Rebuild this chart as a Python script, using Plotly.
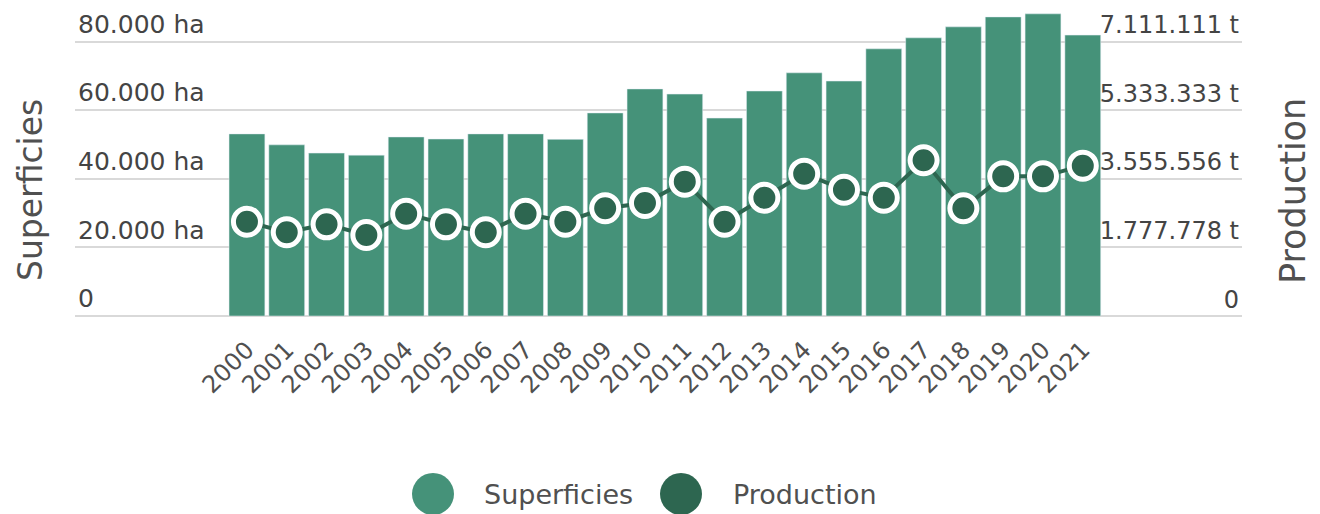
import plotly.graph_objects as go

years = [str(y) for y in range(2000, 2022)]
superficies_ha = [
    53100, 49900, 47500, 46900, 52200, 51600, 53100, 53100, 51500, 59200, 66200,
    64700, 57700, 65600, 70900, 68500, 77900, 81100, 84300, 87200, 88100, 81900,
]
production_t = [
    2444000, 2169000, 2376000, 2100000, 2652000, 2376000, 2169000, 2652000, 2444000,
    2791000, 2929000, 3482000, 2444000, 3067000, 3689000, 3274000, 3067000, 4035000,
    2791000, 3620000, 3620000, 3896000,
]

left_ticks = [0, 20000, 40000, 60000, 80000]
left_labels = ["0", "20.000 ha", "40.000 ha", "60.000 ha", "80.000 ha"]
right_ticks = [0, 1777778, 3555556, 5333333, 7111111]
right_labels = ["0", "1.777.778 t", "3.555.556 t", "5.333.333 t", "7.111.111 t"]

BAR = "#459279"
LINE = "#2d6650"
TEXT = "#505050"
GRID = "#d9d9d9"
FONT = "DejaVu Sans"

# the page body adds an 8px offset, so layout coords are shifted by it
OFF = 8
W, H = 1320, 514
ML, MR, MT, MB = 67, 86, 0, 206
Y_MAX = 89800
Y2_MAX = Y_MAX * 7111111 / 80000


def paper_x(px):
    return (px - OFF - ML) / (W - ML - MR)


def paper_y(py):
    return (H - MB - (py - OFF)) / (H - MT - MB)


fig = go.Figure()
fig.add_trace(go.Bar(x=years, y=superficies_ha, name="Superficies", marker_color=BAR))
fig.add_trace(go.Scatter(
    x=years, y=production_t, name="Production", yaxis="y2", mode="lines+markers",
    line=dict(color=LINE, width=4),
    marker=dict(size=27, color=LINE, line=dict(color="white", width=5)),
    cliponaxis=False,
))

fig.update_layout(
    width=W, height=H,
    margin=dict(l=ML, r=MR, t=MT, b=MB),
    paper_bgcolor="white", plot_bgcolor="white",
    font=dict(family=FONT, color=TEXT, size=24),
    showlegend=False,
    bargap=0.1,
    xaxis=dict(
        type="category", range=[-4.32, 25.0], tickangle=-45, automargin=False,
        tickfont=dict(size=24), showgrid=False, showline=False, ticks="",
        ticklabelstandoff=14,
    ),
    yaxis=dict(
        range=[0, Y_MAX], tickvals=left_ticks, ticktext=left_labels, automargin=False,
        ticklabelposition="inside top", gridcolor=GRID, gridwidth=2,
        zeroline=True, zerolinecolor=GRID, zerolinewidth=2, showline=False,
        tickfont=dict(size=25),
    ),
    yaxis2=dict(
        range=[0, Y2_MAX], overlaying="y", side="right", automargin=False,
        tickvals=right_ticks, ticktext=right_labels,
        ticklabelposition="inside top", showgrid=False, zeroline=False,
        showline=False, tickfont=dict(size=24),
    ),
)

# axis titles
fig.add_annotation(text="Superficies", xref="paper", yref="paper",
                   x=paper_x(31), y=paper_y(190), xanchor="center", yanchor="middle",
                   showarrow=False, textangle=-90, font=dict(size=33))
fig.add_annotation(text="Production", xref="paper", yref="paper",
                   x=paper_x(1293), y=paper_y(191), xanchor="center", yanchor="middle",
                   showarrow=False, textangle=-90, font=dict(size=35))

# legend drawn by hand (large circle symbols)
for cx, tx, color, label in [(433, 482, BAR, "Superficies"), (681, 731, LINE, "Production")]:
    fig.add_shape(type="circle", xref="paper", yref="paper",
                  xsizemode="pixel", ysizemode="pixel",
                  xanchor=paper_x(cx), yanchor=paper_y(494),
                  x0=-21, x1=21, y0=-21, y1=21,
                  fillcolor=color, line=dict(width=0))
    fig.add_annotation(text=label, xref="paper", yref="paper",
                       x=paper_x(tx), y=paper_y(494), xanchor="left", yanchor="middle",
                       showarrow=False, font=dict(size=27))

fig.write_html("out.html")
